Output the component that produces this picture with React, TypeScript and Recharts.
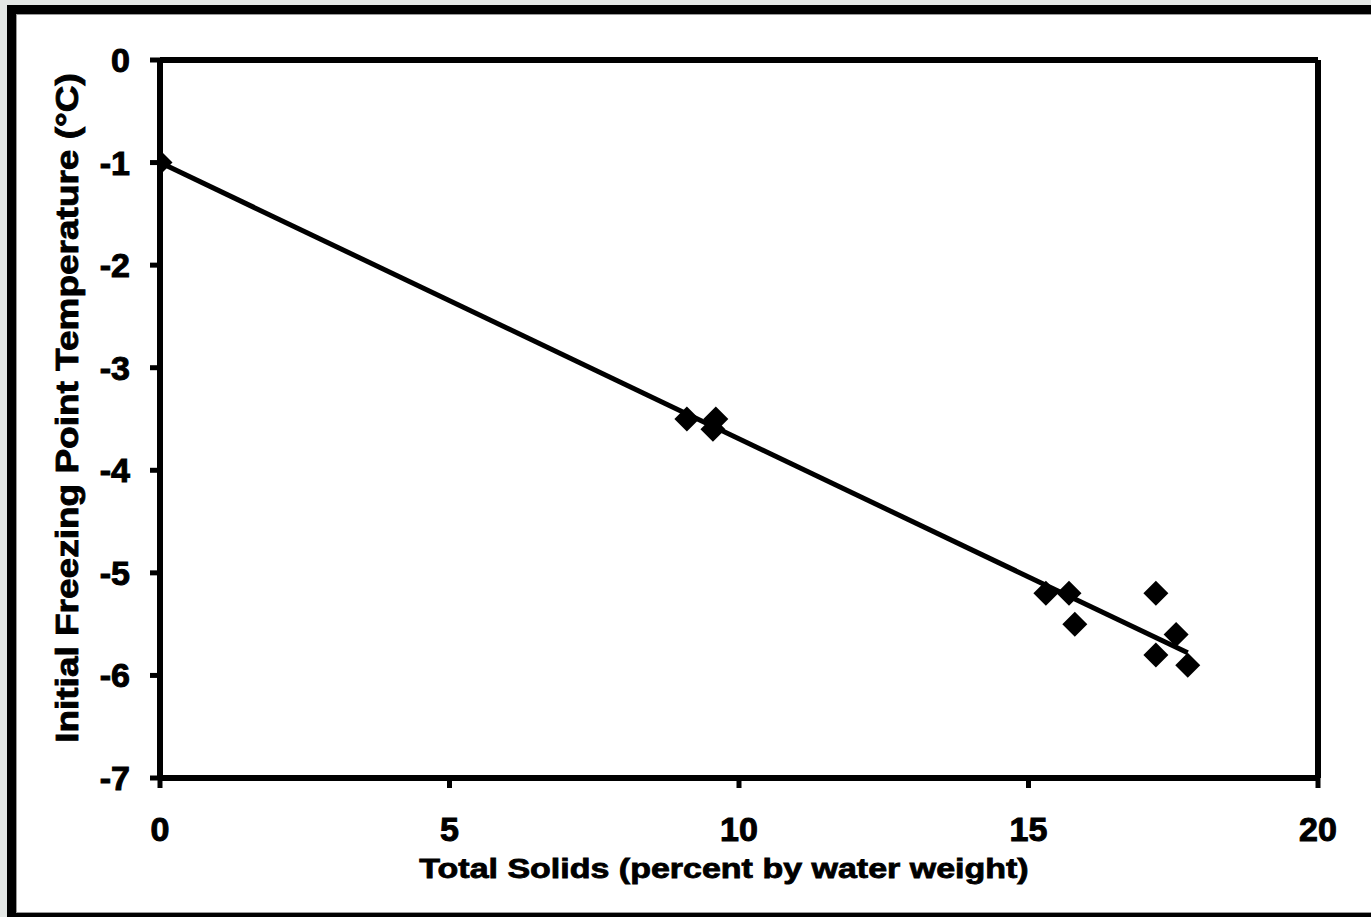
import React from 'react';
import { ScatterChart, Scatter, XAxis, YAxis, ReferenceLine, Label } from 'recharts';

// Total solids (percent by water weight)
const solids = [0, 9.1, 9.6, 9.55, 15.3, 15.7, 15.8, 17.2, 17.55, 17.2, 17.75];
// Initial freezing point temperature (°C)
const freezing = [-1.0, -3.5, -3.5, -3.6, -5.2, -5.2, -5.5, -5.2, -5.6, -5.8, -5.9];
// Linear trend line end points
const trendX = [0, 17.75];
const trendY = [-1.0, -5.78];

const xTicks = [0, 5, 10, 15, 20];
const yTicks = [0, -1, -2, -3, -4, -5, -6, -7];

const xTitle = 'Total Solids (percent by water weight)';
const yTitle = 'Initial Freezing Point Temperature (°C)';

const points = solids.map((x, i) => ({ x, y: freezing[i] }));
const trend = trendX.map((x, i) => ({ x, y: trendY[i] }));

const FONT = '"Liberation Sans", Arial, Helvetica, sans-serif';

const Diamond = (props: any) => {
  const { cx, cy } = props;
  if (cx == null || cy == null) return <g />;
  const r = 12.5;
  return (
    <polygon
      points={`${cx},${cy - r} ${cx + r},${cy} ${cx},${cy + r} ${cx - r},${cy}`}
      fill="#000"
    />
  );
};

const Empty = () => <g />;

const tickStyle = {
  fill: '#000',
  stroke: '#000',
  strokeWidth: 1,
  fontSize: 34,
  fontWeight: 700,
  fontFamily: FONT,
};

export default function App() {
  return (
    <div
      style={{
        position: 'absolute',
        left: 0,
        top: 0,
        width: 1371,
        height: 917,
        background: '#e4e7e5',
        overflow: 'hidden',
      }}
    >
      <div
        style={{
          position: 'absolute',
          left: 7,
          top: 5,
          width: 1400,
          height: 917,
          boxSizing: 'border-box',
          border: '9px solid #000',
          background: '#fff',
        }}
      >
        <div
          style={{
            position: 'absolute',
            inset: 0,
            border: '1px solid #9a9a9a',
          }}
        />
      </div>
      <div style={{ position: 'absolute', left: 0, top: 0 }}>
        <ScatterChart
          width={1371}
          height={917}
          margin={{ top: 60, right: 53, left: 0, bottom: 0 }}
        >
          <XAxis
            type="number"
            dataKey="x"
            domain={[0, 20]}
            ticks={xTicks}
            interval={0}
            allowDataOverflow
            height={139}
            axisLine={{ stroke: '#000', strokeWidth: 6 }}
            tickLine={{ stroke: '#000', strokeWidth: 5 }}
            tickSize={10}
            tickMargin={29}
            tick={tickStyle}
          >
            <Label
              content={(p: any) => {
                const vb = p.viewBox || {};
                const cx = (vb.x ?? 160) + (vb.width ?? 1158) / 2 - 15;
                return (
                  <text
                    x={0}
                    y={0}
                    transform={`translate(${cx}, 878) scale(1, 0.82)`}
                    textAnchor="middle"
                    fill="#000"
                    stroke="#000"
                    strokeWidth={1}
                    fontSize={34}
                    fontWeight={700}
                    fontFamily={FONT}
                  >
                    {xTitle}
                  </text>
                );
              }}
            />
          </XAxis>
          <YAxis
            type="number"
            dataKey="y"
            domain={[-7, 0]}
            ticks={yTicks}
            interval={0}
            allowDataOverflow
            width={160}
            axisLine={{ stroke: '#000', strokeWidth: 6 }}
            tickLine={{ stroke: '#000', strokeWidth: 5 }}
            tickSize={10}
            tickMargin={20}
            tick={tickStyle}
          >
            <Label
              content={(p: any) => {
                const vb = p.viewBox || {};
                const cy = (vb.y ?? 60) + (vb.height ?? 718) / 2 - 11;
                const bx = 78;
                return (
                  <text
                    x={0}
                    y={0}
                    transform={`translate(${bx}, ${cy}) rotate(-90) scale(1, 0.85)`}
                    textAnchor="middle"
                    fill="#000"
                    stroke="#000"
                    strokeWidth={1}
                    fontSize={37}
                    fontWeight={700}
                    fontFamily={FONT}
                  >
                    {yTitle}
                  </text>
                );
              }}
            />
          </YAxis>
          <ReferenceLine y={0} stroke="#000" strokeWidth={6} />
          <ReferenceLine x={20} stroke="#000" strokeWidth={6} />
          <Scatter
            data={trend}
            line={{ stroke: '#000', strokeWidth: 5 }}
            lineType="joint"
            shape={Empty}
            isAnimationActive={false}
          />
          <Scatter data={points} shape={Diamond} isAnimationActive={false} />
        </ScatterChart>
      </div>
    </div>
  );
}
